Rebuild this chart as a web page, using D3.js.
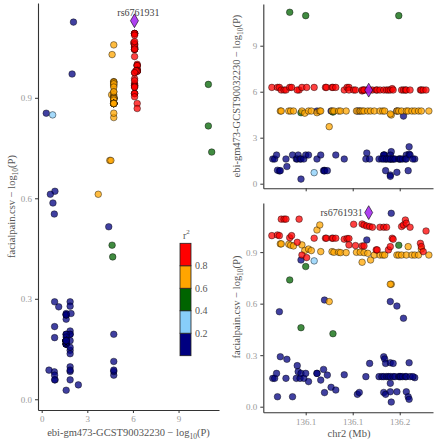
<!DOCTYPE html>
<html><head><meta charset="utf-8">
<script src="https://cdn.jsdelivr.net/npm/d3@7"></script>
<style>
body{margin:0;background:#fff}
svg text{font-family:"Liberation Serif","DejaVu Serif",serif}
</style>
</head><body>
<svg id="chart" width="437" height="440"></svg>
<script>
// ---------------- data ----------------
// SNP positions on chr2 (Mb)
const snpPos = [
 // r2 > 0.8
 136.064,136.070,136.072,136.074,136.077,136.079,136.083,136.085,136.093,136.091,136.096,136.101,136.109,136.121,136.122,136.128,136.129,136.132,136.141,136.144,136.146,136.146,136.151,136.153,136.160,136.162,136.165,136.168,136.171,136.160,136.162,136.175,136.176,136.179,136.183,136.186,136.188,136.190,136.192,136.193,136.202,136.204,136.206,136.207,136.211,136.222,136.223,136.225,136.228,
 // 0.6 - 0.8
 136.073,136.074,136.082,136.084,136.087,136.096,136.099,136.103,136.106,136.112,136.115,136.116,136.128,136.130,136.135,136.137,136.143,136.154,136.158,136.160,136.162,136.166,136.169,136.173,136.179,136.182,136.184,136.191,136.190,136.197,136.199,136.202,136.207,136.209,136.213,136.216,136.220,136.223,136.231,136.125,
 // 0.4 - 0.6
 136.083,136.100,136.199,136.095,136.129,
 // 0.2 - 0.4
 136.109,
 // < 0.2
 136.191,136.165,136.095,136.072,136.120,136.190,136.197,136.204,
 136.065,136.067,136.069,136.070,136.073,136.080,136.079,136.086,136.090,136.091,136.092,136.094,136.095,136.098,136.100,136.103,136.112,136.112,136.116,136.119,136.120,136.123,136.127,136.132,136.141,136.155,136.157,136.164,136.168,136.183,136.184,136.185,136.183,136.185,136.190,136.193,136.190,136.191,136.197,136.207,136.209,136.210,136.210,136.216,136.190,
 136.178,136.181,136.183,136.186,136.188,136.190,136.193,136.195,136.199,136.200,136.201,136.203,136.206,136.207,136.211,136.214
];
// ebi-gm473-GCST90032230 -log10(P)
const ebiLogP = [
 6.28,6.28,6.28,6.11,6.11,6.11,6.28,6.28,6.11,6.11,6.28,6.28,6.28,6.28,6.28,6.28,6.28,6.28,6.11,6.28,6.28,6.11,6.11,6.11,6.05,6.11,6.11,6.11,6.11,6.11,6.11,6.11,6.11,6.11,6.11,6.11,6.11,6.11,6.20,6.11,6.11,6.11,6.11,6.11,6.11,6.11,6.11,6.11,6.11,
 4.74,4.74,4.74,4.74,4.74,4.74,4.60,4.74,4.74,4.63,4.74,4.74,4.74,4.74,4.74,4.74,4.74,4.74,4.74,4.74,4.74,4.74,4.74,4.74,4.74,4.74,4.74,4.48,4.55,4.74,4.74,4.74,4.74,4.74,4.74,4.74,4.74,4.74,4.74,3.72,
 11.18,10.96,10.96,4.63,4.67,
 0.72,
 2.09,2.00,0.30,0.83,0.87,0.57,0.74,4.41,
 1.61,1.61,1.87,0.88,0.85,1.12,1.61,1.87,1.61,1.61,1.87,1.61,1.61,1.61,1.87,1.87,4.74,1.61,1.87,0.85,0.83,0.85,4.74,1.87,1.61,4.74,4.74,1.61,1.61,1.87,1.87,1.61,1.87,0.85,1.61,1.61,1.87,1.61,4.74,1.87,0.85,2.41,1.93,1.61,0.48,
 1.61,1.61,1.61,1.61,1.61,1.61,1.61,1.61,1.61,1.61,1.61,1.61,1.61,1.61,1.87,1.61
];
// facialpain.csv -log10(P)
const facialLogP = [
 0.996,1.000,0.996,1.092,1.092,1.092,0.984,0.996,1.092,0.957,0.883,0.868,0.981,0.981,0.981,0.981,0.981,0.981,0.975,0.979,0.979,0.942,1.062,0.938,1.064,1.058,1.052,1.049,1.045,0.936,0.936,0.913,0.913,1.045,1.045,1.045,0.913,0.932,0.981,0.975,1.049,1.058,1.087,1.068,1.045,0.951,0.932,0.903,1.023,
 0.948,0.948,0.946,0.940,0.936,0.942,0.909,0.918,0.909,1.029,1.058,0.903,0.903,0.899,0.899,0.897,0.897,0.899,0.899,0.841,0.897,0.893,0.854,0.883,0.883,0.883,0.883,0.713,0.713,0.883,0.883,0.883,0.883,0.932,0.883,0.883,0.883,0.918,0.883,0.612,
 0.738,0.816,0.940,0.460,0.425,
 0.849,
 1.126,0.971,0.854,0.553,0.621,0.612,0.586,0.515,
 0.165,0.165,0.194,0.058,0.291,0.276,0.165,0.058,0.165,0.239,0.204,0.165,0.194,0.165,0.194,0.146,0.194,0.194,0.155,0.217,0.082,0.184,0.113,0.097,0.186,0.072,0.083,0.175,0.252,0.291,0.278,0.252,0.083,0.072,0.256,0.252,0.136,0.027,0.087,0.087,0.058,0.043,0.256,0.169,0.087,
 0.175,0.175,0.175,0.175,0.175,0.175,0.175,0.175,0.175,0.175,0.175,0.175,0.175,0.175,0.175,0.175
];
// LD r2 with the lead SNP (group counts: 49, 40, 5, 1, rest)
const r2Groups = [[0.9,49],[0.7,40],[0.5,5],[0.3,1],[0.1,71]];
const snpR2 = r2Groups.flatMap(([v,n]) => Array(n).fill(v));

const leadName = "rs6761931";
const leadPos = 136.167, leadEbi = 6.1, leadFacial = 1.13;

const r2Breaks = [0.2,0.4,0.6,0.8];
const r2Colors = ["#000080","#87CEFA","#006400","#FFA500","#FF0000"];
const r2Labels = ["0.2","0.4","0.6","0.8"];

const xLeftTicks = [0,3,6,9];
const yFacTicks = [0,0.3,0.6,0.9];
const yEbiTicks = [0,3,6,9];
const posTicks = [136.10,136.15,136.20];
const posTickLabels = ["136.1","136.1","136.2"];

// ---------------- drawing ----------------
const svg = d3.select("#chart");
const color = d3.scaleThreshold().domain(r2Breaks).range(r2Colors);
const snps = snpPos.map((p,i)=>({pos:p, ebi:ebiLogP[i], fac:facialLogP[i], r2:snpR2[i]}))
  .sort((a,b)=>a.r2-b.r2);

const tickCol = "#999", axisCol = "#333", titleCol = "#555";

// scales
const xL = d3.scaleLinear().domain([-0.243, 11.66]).range([38, 219]);
const yL = d3.scaleLinear().domain([-0.032, 1.183]).range([410, 3]);
const xR = d3.scaleLinear().domain([136.0549, 136.2354]).range([263.3, 433]);
const yTop = d3.scaleLinear().domain([-0.3, 11.72]).range([188.3, 4]);
const yBot = d3.scaleLinear().domain([-0.0326, 1.186]).range([412.3, 203]);

function styleAxis(g){
  g.select(".domain").attr("stroke", axisCol).attr("stroke-width", 1.1);
  g.selectAll(".tick line").attr("stroke", axisCol);
  g.selectAll(".tick text").attr("fill", tickCol).attr("font-size", 9)
   .attr("font-family","Liberation Serif, serif");
}

// left panel axes
svg.append("g").attr("transform","translate(38,0)")
  .call(d3.axisLeft(yL).tickValues(yFacTicks).tickFormat(d3.format(".1f")).tickSize(3).tickSizeOuter(0)).call(styleAxis);
svg.append("g").attr("transform","translate(0,410)")
  .call(d3.axisBottom(xL).tickValues(xLeftTicks).tickFormat(d3.format("d")).tickSize(3).tickSizeOuter(0)).call(styleAxis);

// right top axes
svg.append("g").attr("transform","translate(263.3,0)")
  .call(d3.axisLeft(yTop).tickValues(yEbiTicks).tickFormat(d3.format("d")).tickSize(3).tickSizeOuter(0)).call(styleAxis);
svg.append("g").attr("transform","translate(0,188.3)")
  .call(d3.axisBottom(xR).tickValues(posTicks).tickFormat("").tickSize(3).tickSizeOuter(0)).call(styleAxis);

// right bottom axes
svg.append("g").attr("transform","translate(263.3,0)")
  .call(d3.axisLeft(yBot).tickValues(yFacTicks).tickFormat(d3.format(".1f")).tickSize(3).tickSizeOuter(0)).call(styleAxis);
svg.append("g").attr("transform","translate(0,412.3)")
  .call(d3.axisBottom(xR).tickValues(posTicks).tickFormat((d,i)=>posTickLabels[i]).tickSize(3).tickSizeOuter(0)).call(styleAxis);

// points
function drawPoints(xs, ys, xk, yk){
  svg.append("g").selectAll("circle").data(snps).join("circle")
    .attr("cx", d=>xs(d[xk])).attr("cy", d=>ys(d[yk])).attr("r", 3.3)
    .attr("fill", d=>color(d.r2)).attr("fill-opacity", 0.75)
    .attr("stroke", "#000").attr("stroke-opacity", 0.85).attr("stroke-width", 0.5);
}
drawPoints(xL, yL, "ebi", "fac");
drawPoints(xR, yTop, "pos", "ebi");
drawPoints(xR, yBot, "pos", "fac");

// lead SNP diamonds
const diamond = d3.symbol().type(d3.symbolDiamond).size(55);
function drawLead(x, y){
  svg.append("path").attr("d", diamond).attr("transform", `translate(${x},${y})`)
    .attr("fill","#A020F0").attr("fill-opacity",0.85).attr("stroke","#000").attr("stroke-width",0.6);
}
drawLead(xL(leadEbi), yL(leadFacial));
drawLead(xR(leadPos), yTop(leadEbi));
drawLead(xR(leadPos), yBot(leadFacial));
svg.append("text").attr("x", xL(leadEbi)+4).attr("y", yL(leadFacial)-5).attr("text-anchor","middle")
  .attr("font-size",10).attr("fill","#444").text(leadName);
svg.append("text").attr("x", xR(leadPos)-6).attr("y", yBot(leadFacial)+3.5).attr("text-anchor","end")
  .attr("font-size",10).attr("fill","#444").text(leadName);

// axis titles
function logTitle(x, y, rotate, prefix){
  const t = svg.append("text").attr("transform", `translate(${x},${y}) rotate(${rotate})`)
    .attr("text-anchor","middle").attr("font-size",10.5).attr("fill",titleCol);
  t.append("tspan").text(prefix + " \u2212 log");
  t.append("tspan").attr("font-size",7.5).attr("dy",3).text("10");
  t.append("tspan").attr("dy",-3).text("(P)");
}
logTitle(128.5, 436, 0, "ebi-gm473-GCST90032230");
logTitle(15, 206.5, -90, "facialpain.csv");
logTitle(240, 96, -90, "ebi-gm473-GCST90032230");
logTitle(240, 307, -90, "facialpain.csv");
svg.append("text").attr("x", 349).attr("y", 437).attr("text-anchor","middle")
  .attr("font-size",10.5).attr("fill",titleCol).text("chr2 (Mb)");

// legend colour bar
const legY = d3.scaleLinear().domain([0, 1]).range([355.7, 243.3]);
const legBins = [0].concat(r2Breaks, [1]);
const leg = svg.append("g");
leg.selectAll("rect").data(r2Colors).join("rect")
  .attr("x",180).attr("width",11)
  .attr("y",(c,i)=>legY(legBins[i+1])).attr("height",(c,i)=>legY(legBins[i])-legY(legBins[i+1]))
  .attr("fill",c=>c).attr("stroke","#222").attr("stroke-width",0.8);
leg.selectAll("text.lab").data(r2Breaks).join("text").attr("class","lab")
  .attr("x",195).attr("y",d=>legY(d)+3.5).attr("font-size",10).attr("fill","#555")
  .text((d,i)=>r2Labels[i]);
const lt = leg.append("text").attr("x",183).attr("y",239).attr("font-size",10).attr("fill","#555");
lt.append("tspan").text("r");
lt.append("tspan").attr("font-size",7).attr("dy",-5).text("2");
</script>
</body></html>
